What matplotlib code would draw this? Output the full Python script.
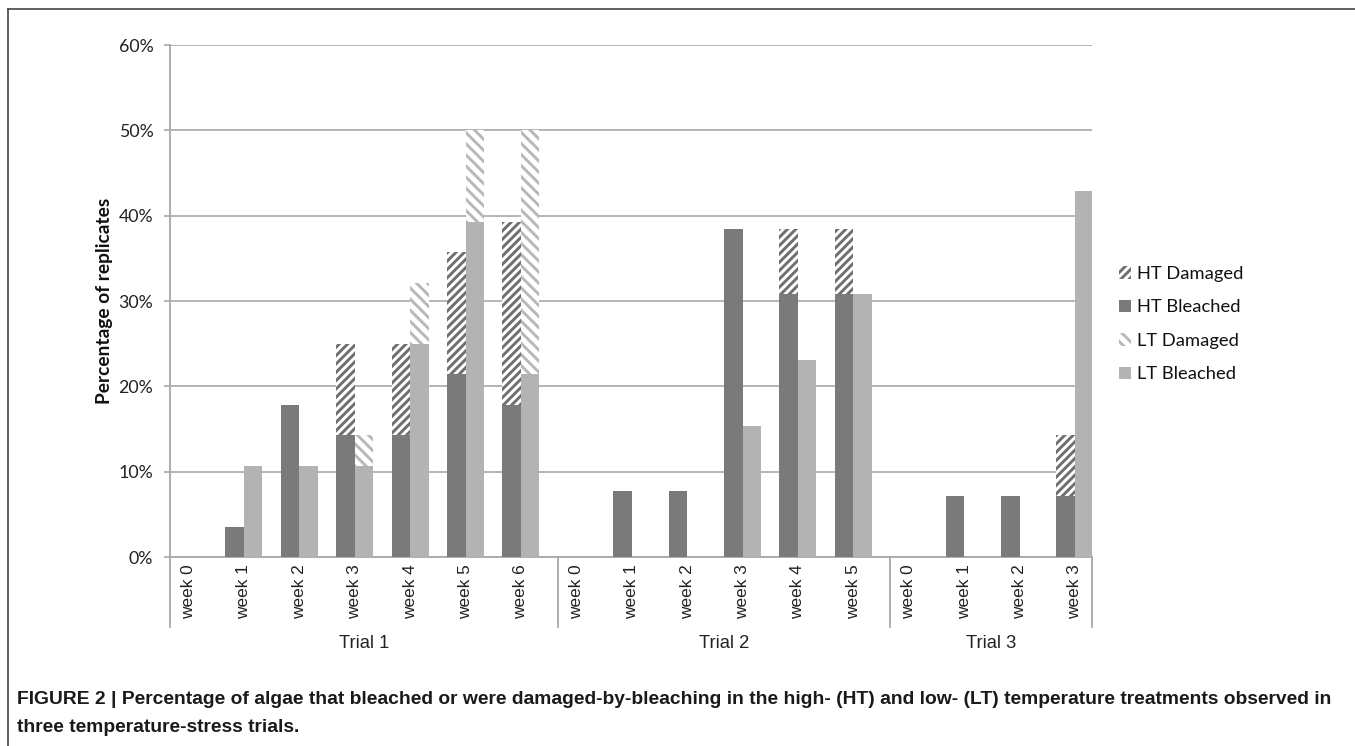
import matplotlib
matplotlib.use("Agg")
import matplotlib.pyplot as plt
from matplotlib.patches import Patch
from matplotlib.lines import Line2D
from matplotlib.ticker import FuncFormatter, MultipleLocator

# ---------------- data ----------------
trials = ["Trial 1", "Trial 2", "Trial 3"]
trial_weeks = [7, 6, 4]
week_labels = ["week 0", "week 1", "week 2", "week 3", "week 4", "week 5", "week 6",
               "week 0", "week 1", "week 2", "week 3", "week 4", "week 5",
               "week 0", "week 1", "week 2", "week 3"]
ht_bleached = [0, 3.57, 17.86, 14.29, 14.29, 21.43, 17.86,
               0, 7.69, 7.69, 38.46, 30.77, 30.77,
               0, 7.14, 7.14, 7.14]
ht_damaged = [0, 0, 0, 10.71, 10.71, 14.29, 21.43,
              0, 0, 0, 0, 7.69, 7.69,
              0, 0, 0, 7.14]
lt_bleached = [0, 10.71, 10.71, 10.71, 25.0, 39.29, 21.43,
               0, 0, 0, 15.38, 23.08, 30.77,
               0, 0, 0, 42.86]
lt_damaged = [0, 0, 0, 3.57, 7.14, 10.71, 28.57,
              0, 0, 0, 0, 0, 0,
              0, 0, 0, 0]
legend_labels = ["HT Damaged", "HT Bleached", "LT Damaged", "LT Bleached"]
caption = ("FIGURE 2 | Percentage of algae that bleached or were damaged-by-bleaching in the "
           "high- (HT) and low- (LT) temperature treatments observed in\n"
           "three temperature-stress trials.")

# ---------------- style ----------------
W, H = 1355, 746
plt.rcParams['hatch.linewidth'] = 2.1
c_ht = "#7a7a7a"
c_lt = "#b3b3b3"
c_ht_h = "#6f6f6f"
c_lt_h = "#b8b8b8"
c_grid = "#a8a8a8"
h_ht = '////'
h_lt = '\\\\\\'

fig = plt.figure(figsize=(W / 100, H / 100), dpi=100)
ax_l, ax_r, ax_t, ax_b = 170, 1092, 45, 557
ax = fig.add_axes([ax_l / W, 1 - ax_b / H, (ax_r - ax_l) / W, (ax_b - ax_t) / H])

cat_px = 55.4
bw = 0.334
n = len(week_labels)
xs = list(range(n))
x_ht = [x for x in xs]
x_lt = [x + bw for x in xs]

ax.bar(x_ht, ht_bleached, width=bw, align='edge', color=c_ht, linewidth=0, zorder=3)
ax.bar(x_ht, ht_damaged, width=bw, bottom=ht_bleached, align='edge', facecolor='white',
       edgecolor=c_ht_h, hatch=h_ht, linewidth=0, zorder=3)
ax.bar(x_lt, lt_bleached, width=bw, align='edge', color=c_lt, linewidth=0, zorder=3)
ax.bar(x_lt, lt_damaged, width=bw, bottom=lt_bleached, align='edge', facecolor='white',
       edgecolor=c_lt_h, hatch=h_lt, linewidth=0, zorder=3)

ax.set_xlim(0, (ax_r - ax_l) / cat_px)
ax.set_ylim(0, 60)
ax.yaxis.set_major_locator(MultipleLocator(10))
ax.yaxis.set_major_formatter(FuncFormatter(lambda v, p: f"{v:.0f}%"))
ax.grid(axis='y', color=c_grid, linewidth=1.2, zorder=0)
ax.set_axisbelow(True)
for s in ['top', 'right']:
    ax.spines[s].set_visible(False)
for s in ['left', 'bottom']:
    ax.spines[s].set_color(c_grid)
    ax.spines[s].set_linewidth(1.3)
ax.set_xticks([])
ax.tick_params(axis='y', length=4, width=1.2, color=c_grid, pad=8,
               labelsize=12.8, labelcolor='#222222')
for lab in ax.get_yticklabels():
    lab.set_family('Lato')

ax.set_ylabel("Percentage of replicates", family='Lato', fontweight='bold',
              fontsize=13.8, color='#111111')
ax.yaxis.set_label_coords(-(170 - 113) / (ax_r - ax_l), 0.5)

# category axis
ah = ax_b - ax_t
tr = ax.get_xaxis_transform()
for i, lab in enumerate(week_labels):
    ax.text(i + bw, -7 / ah, lab, rotation=90, ha='center', va='top', transform=tr,
            family='Liberation Sans', fontsize=12.4, color='#222222', clip_on=False)
bounds = [0]
for k in trial_weeks:
    bounds.append(bounds[-1] + k)
xmax = ax.get_xlim()[1]
seps = bounds[:-1] + [xmax]
for b in seps:
    ax.plot([b, b], [0, -70 / ah], transform=tr, color=c_grid, linewidth=1.3, clip_on=False)
for i, t in enumerate(trials):
    a, b = bounds[i], min(bounds[i + 1], xmax)
    ax.text((a + b) / 2, -86 / ah, t, ha='center', va='center', transform=tr,
            family='Liberation Sans', fontsize=13.2, color='#222222', clip_on=False)

# legend
handles = [Patch(facecolor='white', edgecolor=c_ht_h, hatch=h_ht, linewidth=0),
           Patch(facecolor=c_ht, linewidth=0),
           Patch(facecolor='white', edgecolor=c_lt_h, hatch=h_lt, linewidth=0),
           Patch(facecolor=c_lt, linewidth=0)]
leg = fig.legend(handles, legend_labels, loc='upper left',
                 bbox_to_anchor=(1119 / W, 1 - 266 / H), frameon=False,
                 prop={'family': 'Lato', 'size': 13.2}, handlelength=0.65, handleheight=0.65,
                 handletextpad=0.35, labelspacing=0.95, borderpad=0, borderaxespad=0)
for t in leg.get_texts():
    t.set_color('#111111')

# frame border
fig.add_artist(Line2D([8 / W, 8 / W], [0, 1 - 9 / H], transform=fig.transFigure,
                      color='#444444', linewidth=1.2))
fig.add_artist(Line2D([8 / W, 1], [1 - 9 / H, 1 - 9 / H], transform=fig.transFigure,
                      color='#444444', linewidth=1.2))

# caption, fitted to width
lines = caption.split("\n")
cap_y = [700, 727]
target_w = 1325 - 17
fs = 12
cap_family = ['Liberation Sans']
renderer = fig.canvas.get_renderer()
probe = fig.text(17 / W, 1 - cap_y[0] / H, lines[0], fontsize=fs, fontweight='bold',
                 family=cap_family, va='center', ha='left', color='#1a1a1a')
wpx = probe.get_window_extent(renderer).width
fs = fs * target_w / wpx
probe.set_fontsize(fs)
fig.text(17 / W, 1 - cap_y[1] / H, lines[1], fontsize=fs, fontweight='bold',
         family=cap_family, va='center', ha='left', color='#1a1a1a')

fig.savefig("out.png", dpi=100)
